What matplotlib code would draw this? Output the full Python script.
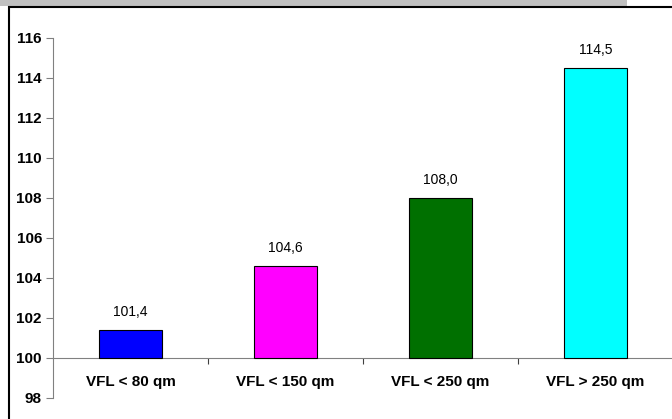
import matplotlib.pyplot as plt
from matplotlib.patches import Rectangle

# data
categories = ['VFL < 80 qm', 'VFL < 150 qm', 'VFL < 250 qm', 'VFL > 250 qm']
values = [101.4, 104.6, 108.0, 114.5]
colors = ['#0000ff', '#ff00ff', '#007000', '#00ffff']
yticks = [98, 100, 102, 104, 106, 108, 110, 112, 114, 116]

plt.rcParams['font.family'] = ['Liberation Sans', 'DejaVu Sans']

W, H = 672, 419
fig = plt.figure(figsize=(W / 100, H / 100), dpi=100)

# grey band and black frame
fig.add_artist(Rectangle((0, 1 - 6 / H), 627 / W, 6 / H, transform=fig.transFigure,
                         facecolor='#c0c0c0', edgecolor='none', zorder=0))
fig.add_artist(Rectangle((9 / W, -0.1), 1.2, 1.1 - 7 / H, transform=fig.transFigure,
                         facecolor='none', edgecolor='black', linewidth=1.5, zorder=5))

ax = fig.add_axes([53 / W, 21 / H, 620 / W, 360 / H])
x = list(range(len(categories)))
ax.bar(x, [v - 100 for v in values], bottom=100, width=0.41,
       color=colors, edgecolor='black', linewidth=0.8, zorder=3)

for xi, v in zip(x, values):
    ax.annotate(f'{v:.1f}'.replace('.', ','), (xi, v), xytext=(0, 8),
                textcoords='offset points', ha='center', va='bottom', fontsize=10)

ax.set_xlim(-0.5, len(categories) - 0.5)
ax.set_ylim(98, 116)
ax.set_yticks(yticks)
ax.set_yticklabels([str(t) for t in yticks], fontsize=11, fontweight='bold')

ax.spines['top'].set_visible(False)
ax.spines['right'].set_visible(False)
ax.spines['left'].set_color('#808080')
ax.spines['bottom'].set_color('#808080')
ax.spines['bottom'].set_position(('data', 100))
ax.tick_params(axis='y', direction='out', length=5, color='#808080', pad=3)

# boundary ticks below the base line, labels centred on the bars
ax.set_xticks([i + 0.5 for i in x[:-1]])
ax.set_xticklabels([])
ax.set_xticks(x, minor=True)
ax.set_xticklabels(categories, minor=True, fontsize=11, fontweight='bold')
ax.tick_params(axis='x', which='major', direction='out', length=4, color='#404040')
ax.tick_params(axis='x', which='minor', length=0, pad=12)

fig.savefig('out.png', dpi=100)
